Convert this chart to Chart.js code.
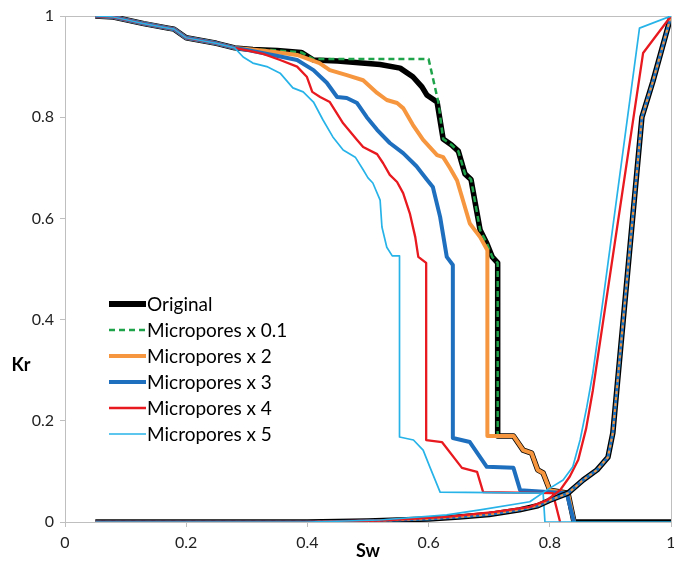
<!DOCTYPE html>
<html><head><meta charset="utf-8">
<script src="https://cdn.jsdelivr.net/npm/chart.js@4"></script>
<style>
html,body{margin:0;padding:0;background:#fff;overflow:hidden;width:674px;height:565px}
#wrap{width:700px;height:565px}
</style></head>
<body><div id="wrap"><canvas id="c" width="700" height="565"></canvas></div>
<script>
// ---- data ----
const seriesNames = ['Original','Micropores x 0.1','Micropores x 2','Micropores x 3','Micropores x 4','Micropores x 5'];
const xTickLabels = ['0','0.2','0.4','0.6','0.8','1'];
const yTickLabels = ['0','0.2','0.4','0.6','0.8','1'];

// shared start of all oil curves
const commonSw  = [0.05,0.08,0.13,0.17,0.18,0.2,0.25,0.28];
const commonKro = [1,0.998,0.985,0.976,0.974,0.957,0.946,0.937];

// oil relative permeability (Kro) tails
const origKroSw = [0.31,0.35,0.39,0.41,0.45,0.52,0.553,0.574,0.589,0.597,0.614,0.624,0.638,0.649,0.66,0.67,0.677,0.685,0.696,0.705,0.714,0.714,0.74,0.756,0.77,0.78,0.789,0.80,0.83,0.84,1.0];
const origKro   = [0.934,0.932,0.928,0.913,0.911,0.904,0.897,0.88,0.86,0.844,0.83,0.757,0.745,0.733,0.688,0.677,0.63,0.577,0.551,0.524,0.512,0.17,0.17,0.142,0.136,0.103,0.097,0.063,0.057,0,0];

const m01KroSw = [0.31,0.35,0.39,0.41,0.60,0.616,0.624,0.638,0.649,0.66,0.67,0.677,0.685,0.696,0.705,0.714,0.714,0.74,0.756,0.77,0.78,0.789,0.80,0.83,0.84];
const m01Kro   = [0.934,0.932,0.928,0.915,0.915,0.83,0.757,0.745,0.733,0.688,0.677,0.63,0.577,0.551,0.524,0.512,0.17,0.17,0.142,0.136,0.103,0.097,0.063,0.057,0];

const m2KroSw = [0.30,0.34,0.383,0.42,0.437,0.465,0.492,0.515,0.531,0.548,0.558,0.574,0.591,0.614,0.624,0.635,0.647,0.668,0.685,0.697,0.697,0.74,0.756,0.77,0.78,0.789,0.80,0.83,0.84];
const m2Kro   = [0.935,0.93,0.923,0.907,0.893,0.883,0.873,0.848,0.834,0.828,0.818,0.785,0.755,0.725,0.721,0.70,0.675,0.59,0.563,0.537,0.17,0.17,0.142,0.136,0.103,0.097,0.063,0.057,0];

const m3KroSw = [0.30,0.355,0.383,0.41,0.432,0.449,0.465,0.482,0.498,0.515,0.536,0.558,0.58,0.597,0.607,0.619,0.63,0.64,0.64,0.668,0.696,0.74,0.751,0.828,0.84];
const m3Kro   = [0.933,0.92,0.913,0.893,0.868,0.84,0.838,0.828,0.80,0.775,0.749,0.729,0.703,0.677,0.662,0.603,0.524,0.508,0.166,0.158,0.109,0.107,0.063,0.057,0];

const m4KroSw = [0.30,0.327,0.355,0.383,0.399,0.408,0.421,0.437,0.459,0.482,0.492,0.515,0.525,0.536,0.548,0.558,0.569,0.578,0.583,0.596,0.596,0.622,0.655,0.68,0.69,0.805,0.817];
const m4Kro   = [0.932,0.925,0.913,0.9,0.88,0.85,0.84,0.83,0.788,0.755,0.741,0.727,0.709,0.686,0.672,0.65,0.61,0.563,0.524,0.512,0.162,0.158,0.107,0.099,0.059,0.057,0];

const m5KroSw = [0.294,0.31,0.333,0.355,0.376,0.393,0.41,0.426,0.442,0.459,0.479,0.492,0.5,0.508,0.52,0.523,0.531,0.54,0.552,0.552,0.575,0.591,0.602,0.619,0.789,0.792,1.0];
const m5Kro   = [0.919,0.907,0.9,0.887,0.858,0.85,0.83,0.794,0.761,0.735,0.721,0.696,0.68,0.67,0.636,0.583,0.543,0.526,0.526,0.168,0.162,0.142,0.109,0.059,0.057,0,0];

// water relative permeability (Krw)
const origKrwSw = [0.05,0.4,0.5,0.6,0.65,0.7,0.75,0.78,0.8,0.83,0.855,0.878,0.896,0.904,0.952,0.97,1.0];
const origKrw   = [0,0,0.002,0.006,0.01,0.015,0.024,0.032,0.043,0.057,0.083,0.103,0.128,0.176,0.80,0.87,1.0];
const m4KrwSw = [0.05,0.4,0.52,0.63,0.71,0.767,0.795,0.817,0.833,0.847,0.86,0.871,0.954,1.0];
const m4Krw   = [0,0,0.003,0.01,0.02,0.03,0.043,0.063,0.09,0.123,0.185,0.26,0.927,1.0];
const m5KrwSw = [0.05,0.4,0.52,0.63,0.685,0.767,0.795,0.822,0.838,0.85,0.861,0.871,0.888,0.948,1.0];
const m5Krw   = [0,0,0.004,0.014,0.024,0.04,0.063,0.083,0.109,0.162,0.227,0.294,0.44,0.976,1.0];

// ---- styles ----
const styles = [
  {color:'#000000', width:5.5, dash:[]},
  {color:'#1fa34a', width:2.5, dash:[6,4]},
  {color:'#f6973f', width:4, dash:[]},
  {color:'#1f6fbf', width:4, dash:[]},
  {color:'#e8191f', width:2.3, dash:[]},
  {color:'#27b3e8', width:1.7, dash:[]}
];

const pts = (xs, ys) => xs.map((x, i) => ({x: x, y: ys[i]}));
const kroData = [
  pts(commonSw.concat(origKroSw), commonKro.concat(origKro)),
  pts(commonSw.concat(m01KroSw), commonKro.concat(m01Kro)),
  pts(commonSw.concat(m2KroSw), commonKro.concat(m2Kro)),
  pts(commonSw.concat(m3KroSw), commonKro.concat(m3Kro)),
  pts(commonSw.concat(m4KroSw), commonKro.concat(m4Kro)),
  pts(commonSw.concat(m5KroSw), commonKro.concat(m5Kro))
];
const krwData = [
  pts(origKrwSw, origKrw),
  pts(origKrwSw, origKrw),
  pts(origKrwSw, origKrw),
  pts(origKrwSw, origKrw),
  pts(m4KrwSw, m4Krw),
  pts(m5KrwSw, m5Krw)
];

const datasets = [];
// drawing order (bottom -> top). Larger "order" = drawn earlier.
let ord = 100;
function add(label, data, st) {
  datasets.push({
    label: label, data: data, showLine: true, fill: false,
    borderColor: st.color, backgroundColor: st.color, borderWidth: st.width,
    borderDash: st.dash, pointRadius: 0, tension: 0, order: ord--,
    borderCapStyle: 'butt', borderJoinStyle: 'round'
  });
}
for (let i = 0; i < 6; i++) add(seriesNames[i], kroData[i], styles[i]);
// water curves
add(seriesNames[0] + ' Krw', krwData[0], styles[0]);
add(seriesNames[1] + ' Krw', krwData[1], styles[1]);
add(seriesNames[3] + ' Krw', krwData[3], {color: styles[3].color, width: 3, dash: []});
add(seriesNames[2] + ' Krw', krwData[2], {color: styles[2].color, width: 2, dash: [3,3]});
add(seriesNames[4] + ' Krw', krwData[4], styles[4]);
add(seriesNames[5] + ' Krw', krwData[5], styles[5]);

const axisGray = '#bfbfbf';
const overlay = {
  id: 'overlay',
  beforeDatasetsDraw(chart) {
    const {ctx, chartArea: a} = chart;
    ctx.save();
    ctx.strokeStyle = axisGray; ctx.lineWidth = 1;
    ctx.beginPath();
    ctx.moveTo(a.left, a.top + 0.5); ctx.lineTo(a.right, a.top + 0.5);
    ctx.moveTo(a.right + 0.5, a.top); ctx.lineTo(a.right + 0.5, a.bottom);
    ctx.stroke();
    ctx.restore();
  },
  afterDraw(chart) {
    const ctx = chart.ctx;
    ctx.save();
    // axis titles
    ctx.fillStyle = '#000';
    ctx.font = 'bold 18px Lato';
    ctx.textAlign = 'center'; ctx.textBaseline = 'middle';
    ctx.fillText('Kr', 21, 365);
    ctx.fillText('Sw', 368, 551);
    // legend
    ctx.font = '19px Lato';
    ctx.textAlign = 'left';
    for (let i = 0; i < 6; i++) {
      const y = 304 + i * 26;
      const st = styles[i];
      ctx.strokeStyle = st.color; ctx.lineWidth = (i === 0 ? 6 : st.width);
      ctx.setLineDash(st.dash);
      ctx.lineCap = 'butt';
      ctx.beginPath(); ctx.moveTo(109, y); ctx.lineTo(146, y); ctx.stroke();
      ctx.setLineDash([]);
      ctx.fillStyle = '#000';
      ctx.fillText(seriesNames[i], 147, y + 1);
    }
    ctx.restore();
  }
};

new Chart(document.getElementById('c'), {
  type: 'scatter',
  data: {datasets: datasets},
  options: {
    responsive: false, animation: false, devicePixelRatio: 1,
    layout: {padding: {top: 16, right: 29, left: 0, bottom: 0}},
    plugins: {legend: {display: false}, tooltip: {enabled: false}},
    elements: {point: {radius: 0}},
    scales: {
      x: {
        type: 'linear', min: 0, max: 1,
        ticks: {stepSize: 0.2, padding: 6, color: '#222', font: {family: 'Lato', size: 16},
          callback: (v) => xTickLabels[Math.round(v * 5)], maxRotation: 0},
        grid: {drawOnChartArea: false, tickLength: 5, color: axisGray},
        border: {color: axisGray},
        afterFit: (s) => { s.height = 43; }
      },
      y: {
        type: 'linear', min: 0, max: 1,
        ticks: {stepSize: 0.2, padding: 6, color: '#222', font: {family: 'Lato', size: 16},
          callback: (v) => yTickLabels[Math.round(v * 5)]},
        grid: {drawOnChartArea: false, tickLength: 5, color: axisGray},
        border: {color: axisGray},
        afterFit: (s) => { s.width = 65; }
      }
    }
  },
  plugins: [overlay]
});
</script>
</body></html>
